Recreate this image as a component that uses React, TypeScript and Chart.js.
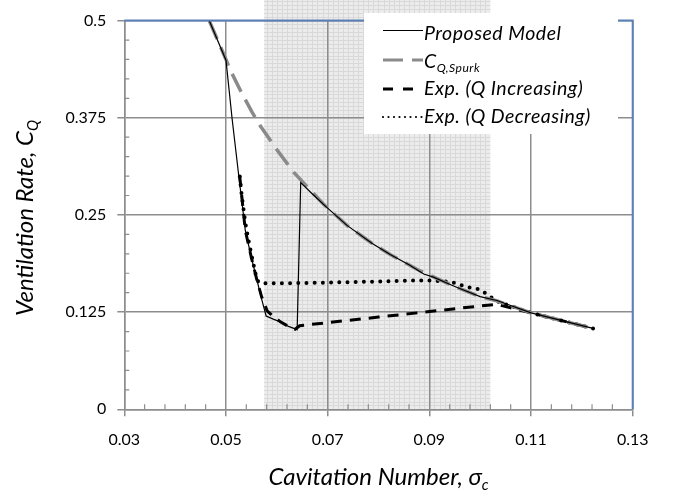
import React, { useEffect, useRef } from "react";
import { Chart, registerables } from "chart.js";

Chart.register(...registerables);

// ---------------- data ----------------
const proposedX = [0.0467, 0.05, 0.0512, 0.0525, 0.0538, 0.055, 0.0561, 0.057, 0.0579, 0.0593, 0.0607, 0.0623, 0.064, 0.0647, 0.067, 0.0695, 0.0738, 0.0787, 0.0823, 0.086, 0.0889, 0.0908, 0.095, 0.1, 0.1033, 0.11, 0.1222];
const proposedY = [0.5, 0.449, 0.374, 0.301, 0.23, 0.195, 0.166, 0.142, 0.12, 0.116, 0.1125, 0.1066, 0.1025, 0.2917, 0.277, 0.2616, 0.2366, 0.2137, 0.1991, 0.186, 0.174, 0.17, 0.158, 0.145, 0.14, 0.124, 0.104];

const spurkX = [0.0467, 0.05, 0.0508, 0.053, 0.0551, 0.0567, 0.06, 0.0633, 0.0692, 0.0738, 0.0787, 0.0823, 0.0882, 0.095, 0.1, 0.103, 0.11, 0.1222];
const spurkY = [0.5, 0.45, 0.437, 0.408, 0.3825, 0.365, 0.334, 0.305, 0.2637, 0.2366, 0.2137, 0.1991, 0.178, 0.158, 0.145, 0.14, 0.124, 0.104];

const qIncX = [0.0527, 0.0538, 0.055, 0.0561, 0.057, 0.0581, 0.0591, 0.0607, 0.0623, 0.0636, 0.0645, 0.07, 0.08, 0.09, 0.1, 0.1033, 0.11, 0.1222];
const qIncY = [0.3, 0.23, 0.195, 0.166, 0.145, 0.1266, 0.1208, 0.1125, 0.1066, 0.103, 0.1075, 0.1115, 0.1186, 0.1257, 0.1329, 0.135, 0.124, 0.104];

const qDecX = [0.1222, 0.11, 0.1033, 0.1, 0.0974, 0.0944, 0.0902, 0.085, 0.081, 0.07, 0.06, 0.0568, 0.0561, 0.0553, 0.0545, 0.0538, 0.0531, 0.0527];
const qDecY = [0.104, 0.124, 0.139, 0.154, 0.1575, 0.1637, 0.1658, 0.1655, 0.1645, 0.163, 0.162, 0.162, 0.166, 0.19, 0.215, 0.24, 0.275, 0.3];

const xTicks = [0.03, 0.05, 0.07, 0.09, 0.11, 0.13];
const yTicks = [0, 0.125, 0.25, 0.375, 0.5];
const xMinorStep = 0.004;
const yMinorStep = 0.025;
const shadeRange = [0.0575, 0.102];
const shadeGridX = 0.001;
const shadeGridY = 0.005;

const legendLabels = ["Proposed Model", "C", "Exp. (Q Increasing)", "Exp. (Q Decreasing)"];
const legendSub = ["", "Q,Spurk", "", ""];
const xTitle = [{ t: "Cavitation Number, " }, { t: "σ" }, { t: "c", sub: true }];
const yTitle = [{ t: "Ventilation Rate, " }, { t: "C" }, { t: "Q", sub: true }];

// ---------------- styles ----------------
const FONT = 'Lato, "Open Sans", sans-serif';
const GRID = "#8d8d8d";
const BLUE = "#5b80b8";

const pts = (xs: number[], ys: number[]) => xs.map((x, i) => ({ x, y: ys[i] }));

type Part = { t: string; sub?: boolean };
function setFont(ctx: CanvasRenderingContext2D, size: number, sub?: boolean) {
  ctx.font = `italic ${sub ? size * 0.62 : size}px ${FONT}`;
}
function richWidth(ctx: CanvasRenderingContext2D, parts: Part[], size: number) {
  let w = 0;
  for (const p of parts) {
    setFont(ctx, size, p.sub);
    w += ctx.measureText(p.t).width;
  }
  return w;
}
function drawRich(ctx: CanvasRenderingContext2D, parts: Part[], size: number, x: number, y: number) {
  let cx = x;
  for (const p of parts) {
    setFont(ctx, size, p.sub);
    ctx.fillText(p.t, cx, p.sub ? y + size * 0.22 : y);
    cx += ctx.measureText(p.t).width;
  }
}

const shadePlugin = {
  id: "shade",
  beforeDraw(chart: any) {
    const { ctx, chartArea } = chart;
    const xs = chart.scales.x;
    const ys = chart.scales.y;
    const x0 = xs.getPixelForValue(shadeRange[0]);
    const x1 = xs.getPixelForValue(shadeRange[1]);
    ctx.save();
    ctx.fillStyle = "#ececec";
    ctx.fillRect(x0, 0, x1 - x0, chartArea.bottom);
    ctx.strokeStyle = "#d9d9d9";
    ctx.lineWidth = 1;
    ctx.beginPath();
    for (let k = Math.ceil(shadeRange[0] / shadeGridX); k * shadeGridX <= shadeRange[1]; k++) {
      const px = Math.round(xs.getPixelForValue(k * shadeGridX)) + 0.5;
      ctx.moveTo(px, 0);
      ctx.lineTo(px, chartArea.bottom);
    }
    for (let k = 0; ; k++) {
      const py = ys.getPixelForValue(k * shadeGridY);
      if (py < 0) break;
      const pr = Math.round(py) + 0.5;
      ctx.moveTo(x0, pr);
      ctx.lineTo(x1, pr);
    }
    ctx.stroke();
    ctx.restore();
  },
};

const decorPlugin = {
  id: "decor",
  afterDraw(chart: any) {
    const { ctx, chartArea } = chart;
    const xs = chart.scales.x;
    const ys = chart.scales.y;
    ctx.save();
    // minor ticks
    ctx.strokeStyle = GRID;
    ctx.lineWidth = 1.2;
    ctx.beginPath();
    const nx = Math.round((xs.max - xs.min) / xMinorStep);
    for (let i = 1; i < nx; i++) {
      if (i % 5 === 0) continue;
      const px = xs.getPixelForValue(xs.min + i * xMinorStep);
      ctx.moveTo(px, chartArea.bottom);
      ctx.lineTo(px, chartArea.bottom - 5);
    }
    const ny = Math.round((ys.max - ys.min) / yMinorStep);
    for (let i = 1; i < ny; i++) {
      if (i % 5 === 0) continue;
      const py = ys.getPixelForValue(ys.min + i * yMinorStep);
      ctx.moveTo(chartArea.left, py);
      ctx.lineTo(chartArea.left + 5, py);
    }
    ctx.stroke();
    // blue top / right border
    ctx.strokeStyle = BLUE;
    ctx.lineWidth = 2;
    ctx.beginPath();
    ctx.moveTo(chartArea.left, chartArea.top);
    ctx.lineTo(chartArea.right, chartArea.top);
    ctx.lineTo(chartArea.right, chartArea.bottom);
    ctx.stroke();

    // legend
    ctx.fillStyle = "#ffffff";
    ctx.fillRect(364, 13, 254, 121);
    const ds = chart.data.datasets;
    const lineY = [30.5, 60, 89, 117];
    const baseY = [39.5, 68, 95, 122.7];
    for (let i = 0; i < 4; i++) {
      const d = ds[i];
      ctx.strokeStyle = d.borderColor;
      ctx.lineWidth = i === 3 ? 2.2 : i === 1 ? 3 : d.borderWidth;
      ctx.lineCap = i === 3 ? "round" : "butt";
      ctx.setLineDash(i === 3 ? [0, 5.5] : i === 2 ? [10, 10] : d.borderDash || []);
      ctx.beginPath();
      ctx.moveTo(383, lineY[i]);
      ctx.lineTo(423, lineY[i]);
      ctx.stroke();
      ctx.setLineDash([]);
      ctx.fillStyle = "#000";
      ctx.textBaseline = "alphabetic";
      ctx.textAlign = "left";
      const parts: Part[] = [{ t: legendLabels[i] }];
      if (legendSub[i]) parts.push({ t: legendSub[i], sub: true });
      (ctx as any).letterSpacing = "0.5px";
      drawRich(ctx, parts, 19.5, 424, baseY[i]);
      (ctx as any).letterSpacing = "0px";
    }

    // axis titles
    ctx.fillStyle = "#000";
    const ts = 24;
    const wx = richWidth(ctx, xTitle, ts);
    drawRich(ctx, xTitle, ts, (chartArea.left + chartArea.right) / 2 - wx / 2, 485);
    const wy = richWidth(ctx, yTitle, ts);
    ctx.translate(33, 218);
    ctx.rotate(-Math.PI / 2);
    drawRich(ctx, yTitle, ts, -wy / 2, 0);
    ctx.restore();
  },
};

export default function App() {
  const ref = useRef<HTMLCanvasElement>(null);
  useEffect(() => {
    const canvas = ref.current!;
    const chart = new Chart(canvas, {
      type: "scatter",
      data: {
        datasets: [
          { label: "Proposed Model", data: pts(proposedX, proposedY), showLine: true, borderColor: "#000", backgroundColor: "#000", borderWidth: 1.2, pointRadius: 0 },
          { label: "C Q,Spurk", data: pts(spurkX, spurkY), showLine: true, borderColor: "#8a8a8a", backgroundColor: "#8a8a8a", borderWidth: 3.5, borderDash: [20, 9], pointRadius: 0 },
          { label: "Exp. (Q Increasing)", data: pts(qIncX, qIncY), showLine: true, borderColor: "#000", backgroundColor: "#000", borderWidth: 3, borderDash: [11, 8], pointRadius: 0 },
          { label: "Exp. (Q Decreasing)", data: pts(qDecX, qDecY), showLine: true, borderColor: "#000", backgroundColor: "#000", borderWidth: 4, borderDash: [0, 8.2], borderCapStyle: "round", pointRadius: 0 },
        ],
      } as any,
      options: {
        responsive: false,
        animation: false,
        devicePixelRatio: 1,
        layout: { padding: { top: 9.3, right: 45.3, left: 0, bottom: 0 } },
        plugins: { legend: { display: false }, tooltip: { enabled: false } },
        scales: {
          x: {
            type: "linear",
            min: 0.03,
            max: 0.13,
            afterBuildTicks: (s: any) => { s.ticks = xTicks.map((v) => ({ value: v })); },
            afterFit: (s: any) => { s.height = 86.7; },
            ticks: { callback: (v: any) => Number(v).toFixed(2), font: { size: 16, family: FONT }, color: "#000", padding: 14, maxRotation: 0, autoSkip: false },
            grid: { color: GRID, lineWidth: 1.5, tickLength: 7, tickColor: GRID },
            border: { display: true, color: GRID, width: 1.5 },
          },
          y: {
            type: "linear",
            min: 0,
            max: 0.5,
            afterBuildTicks: (s: any) => { s.ticks = yTicks.map((v) => ({ value: v })); },
            afterFit: (s: any) => { s.width = 124.3; },
            ticks: { callback: (v: any) => String(Number(Number(v).toFixed(3))), font: { size: 16, family: FONT }, color: "#000", padding: 11, autoSkip: false },
            grid: { color: GRID, lineWidth: 1.5, tickLength: 7, tickColor: GRID },
            border: { display: true, color: GRID, width: 1.5 },
          },
        },
      } as any,
      plugins: [shadePlugin, decorPlugin] as any,
    });
    return () => chart.destroy();
  }, []);
  return (
    <div style={{ position: "absolute", left: 0, top: 0, width: 678, height: 496 }}>
      <canvas ref={ref} width={678} height={496} style={{ display: "block" }} />
    </div>
  );
}
